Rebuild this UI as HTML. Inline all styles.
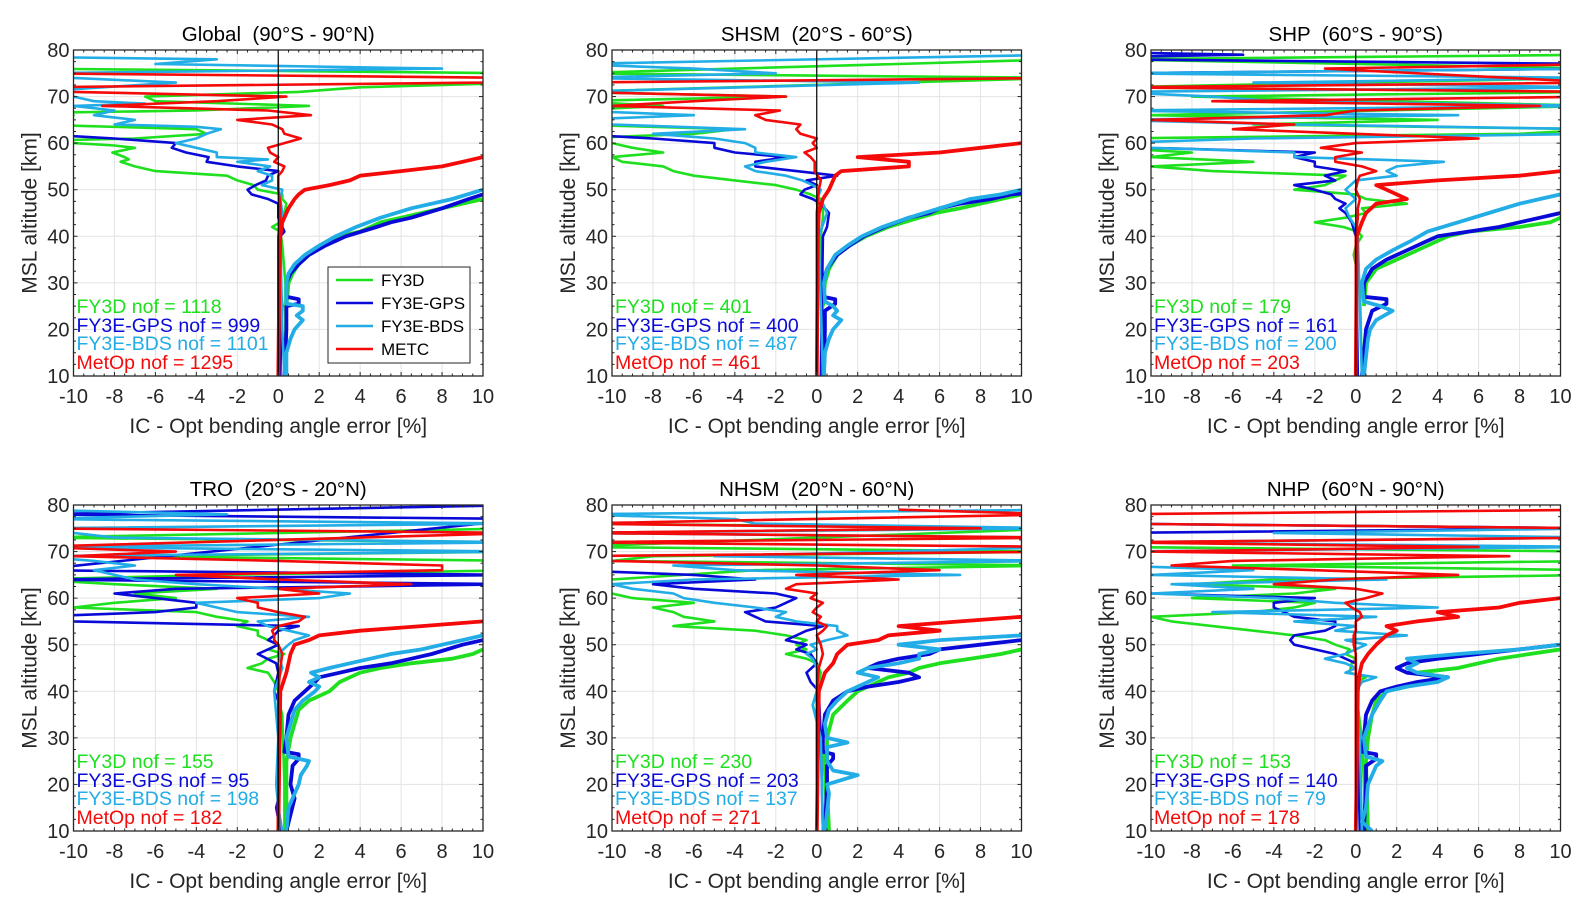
<!DOCTYPE html>
<html><head><meta charset="utf-8"><title>IC - Opt bending angle error profiles</title>
<style>
html,body{margin:0;padding:0;background:#fff;}
svg{display:block;font-family:"Liberation Sans",Arial,sans-serif;}
svg text{white-space:pre;}
</style></head>
<body>
<svg id="fig" width="1592" height="912" viewBox="0 0 1592 912" xmlns="http://www.w3.org/2000/svg"></svg>
<script>
// ---------- data (altitude km, error %) ----------
const xTicks = [-10,-8,-6,-4,-2,0,2,4,6,8,10];
const yTicks = [10,20,30,40,50,60,70,80];
const panelTitles = ["Global  (90°S - 90°N)","SHSM  (20°S - 60°S)","SHP  (60°S - 90°S)","TRO  (20°S - 20°N)","NHSM  (20°N - 60°N)","NHP  (60°N - 90°N)"];
const seriesNames = ["FY3D","FY3E-GPS","FY3E-BDS","METC"];
const nofLabels = ["FY3D","FY3E-GPS","FY3E-BDS","MetOp"];
const nofGlobal = [1118,999,1101,1295];
const nofSHSM = [401,400,487,461];
const nofSHP = [179,161,200,203];
const nofTRO = [155,95,198,182];
const nofNHSM = [230,203,137,271];
const nofNHP = [153,140,79,178];

const GLO_FY3D_BIAS=[[10,0.3],[20,0.35],[30,0.35],[38,0.2],[41,0.1],[42,-0.3],[43,0.1],[45,0.3],[47,0.4],[48,0.2],[49,0.2],[50,-1],[51,-1.2],[52,-2],[53,-2.5],[54,-6],[55,-7],[56,-7.7],[56.5,-7.3],[57,-7.5],[58,-8.1],[59,-7],[59.5,-8],[60,-10],[60.5,-12],[61,-7],[62,-3.5],[63,-4],[64,-12],[66,-10],[66.5,-12],[67,-4],[68,1.5],[69,-6],[70,-6.5],[71,1],[72,4],[73,12],[75,12],[76,-12]];
const GLO_FY3D_STD=[[25,0.4],[30,0.5],[32,0.7],[34,1.0],[36,1.5],[38,2.2],[40,3.0],[41,4.0],[42,4.5],[43,5],[44,6],[45,7],[46,8],[47,9],[48,10],[48.5,12]];
const GLO_GPS_BIAS=[[10,0.1],[20,0.15],[25,0.2],[30,0.1],[40,0.1],[41,0.3],[44,0],[47,0],[48,-0.5],[49,-1.3],[50,-1.5],[51,-1.1],[52,-0.6],[53,-0.5],[54,0],[55,-2],[56,-3.5],[57,-3.4],[58,-4.5],[59,-5.2],[60,-5],[61,-8],[61.5,-10],[62,-12]];
const GLO_GPS_STD=[[10,0.3],[15,0.35],[20,0.4],[24,0.4],[25,0.4],[25.5,1.0],[26.5,1.0],[27,0.4],[30,0.4],[32,0.6],[34,1.0],[36,1.5],[38,2.3],[40,3.3],[42,4.8],[43,5.5],[44,6.5],[46,8],[48,9.3],[49,10],[49.5,12]];
const GLO_BDS_BIAS=[[10,0.3],[20,0.2],[40,0.1],[45,0.2],[48,0.1],[50,0.2],[51,-0.8],[52,-0.3],[53,-0.3],[54,-1],[55,-0.4],[56,-2],[56.5,-0.5],[57,-3],[58,-3],[59,-4],[60,-5],[61,-4],[62,-3.5],[63,-2.8],[63.5,-4],[64,-8],[65,-7],[66,-9],[67,-8],[68,-10],[68.5,-6.5],[69,-9],[70,-10],[71,-12],[73,-5],[74,-10],[75,-12],[76,8],[77,-6],[78,-3],[78.5,-12]];
const GLO_BDS_STD=[[10,0.4],[15,0.4],[18,0.6],[20,0.8],[22,1.2],[23,0.9],[24,1.2],[25,1.2],[25.5,0.4],[30,0.4],[32,0.5],[34,0.8],[36,1.3],[38,2],[40,2.8],[42,3.8],[44,5],[46,6.5],[48,8.5],[50,10],[51,12]];
const GLO_METC_BIAS=[[10,0],[30,0],[40,0],[43,0.1],[45,0.1],[47,0.1],[50,0],[53,0],[54,0.2],[55,0.3],[56,-0.2],[57,0],[58,-0.4],[59,-0.5],[60,0.3],[61,1.1],[62,0.3],[63,0.2],[64,-0.3],[65,-2],[66,1.6],[67,-0.5],[68,-8.6],[69,-3],[70,0.4],[71,-10],[72,-12],[73,10],[74,12],[75,-12]];
const GLO_METC_STD=[[10,0],[30,0.05],[40,0.1],[43,0.2],[46,0.5],[48,0.8],[49,1],[50,1.3],[51,2.5],[52,3.5],[53,4],[54,6],[55,8],[56,9],[57,10],[58,12]];

const SHSM_FY3D_BIAS=[[10,0.3],[30,0.3],[40,0.2],[44,0.3],[46,0.3],[47,0],[48,0.2],[49,-0.3],[50,-1],[51,-2],[52,-4],[53,-6],[54,-7],[55,-7.5],[56,-9.5],[57,-10],[58,-7.5],[59,-9],[60,-10],[61,-12],[62,-6],[63,-4],[64,-12],[67,-12],[68,-7.5],[69,-12],[70,-1.5],[71,-12],[74,12],[75,-12],[78,12],[79,12]];
const SHSM_FY3D_STD=[[25,0.3],[30,0.4],[33,0.6],[36,1],[38,1.6],[40,2.4],[42,3.5],[44,5],[45,5.8],[46,7],[47,8],[48,9],[49,10],[50,12]];
const SHSM_GPS_BIAS=[[10,0.2],[40,0.3],[42,0.5],[45,0.6],[47,0.2],[48,-0.2],[49,-0.8],[50,-0.6],[51,0],[52,-0.5],[53,1],[54,-1],[55,-3],[56,-3],[57,-1.5],[58,-4],[59,-5],[60,-5],[61,-8],[62,-12]];
const SHSM_GPS_STD=[[10,0.35],[20,0.4],[24,0.4],[25.5,0.9],[26.5,0.9],[27,0.3],[30,0.3],[33,0.5],[36,1],[38,1.6],[40,2.3],[42,3.3],[44,4.5],[45,5.5],[46,6],[47,7],[48,8.5],[49,9.5],[50,12]];
const SHSM_BDS_BIAS=[[10,0.3],[40,0.1],[45,0.5],[47,0.3],[48,0],[50,0.2],[51,-0.2],[52,-0.7],[53,-1.5],[54,-3],[55,-3.5],[56,-2.5],[57,-1],[58,-3],[59,-3],[60,-3.5],[61,-5],[62,-8],[63,-3.5],[64,-10],[65,-12],[66,-6],[67,-12],[71,-12],[73,5],[74,-12],[75,-2],[76,-6],[77,-12],[79,12],[80,12]];
const SHSM_BDS_STD=[[10,0.35],[15,0.4],[18,0.6],[20,0.8],[22,1.2],[23,0.8],[24,1],[25,0.8],[26,0.4],[30,0.35],[33,0.5],[36,0.9],[38,1.5],[40,2.2],[42,3.2],[44,4.5],[46,6],[48,7.5],[49,9],[50,10],[50.5,12]];
const SHSM_METC_BIAS=[[10,0],[40,0],[45,0],[50,0.1],[52,0.2],[54,-0.1],[56,-0.1],[57,-0.3],[58,-0.6],[59,0],[60,-0.2],[61,0],[62,-0.8],[63,-1],[64,-0.8],[65,-2.5],[66,-3],[67,-1.8],[68,-10],[69,-6],[70,-1.5],[71,-12],[73,-12],[74,12],[75,12]];
const SHSM_METC_STD=[[10,0],[40,0.05],[45,0.1],[48,0.3],[50,0.6],[52,0.8],[53,0.9],[54,1.2],[55,4.5],[56,4.5],[57,2],[58,6],[59,8],[60,10],[61,12]];

const SHP_FY3D_BIAS=[[10,0.3],[30,0.2],[36,-0.1],[38,0],[40,0.3],[41,0.1],[42,-0.6],[43,-2],[44,-0.5],[45,0.5],[46,0.3],[47,2.5],[48,0.5],[49,0],[50,-3],[51,-1.5],[52,-1],[53,-0.5],[54,-7],[55,-10],[56,-5],[57,-10],[58,-8],[59,-12],[60,-10],[61,-12],[62,8],[63,12],[64,-5],[65,4],[66,-10],[68,12],[70,-8],[71,12],[72,-12],[74,12],[76,12],[78,-12],[79,12],[80,12]];
const SHP_FY3D_STD=[[25,0.4],[30,0.5],[33,1],[35,2],[37,3],[39,4],[40,4.5],[41,5.5],[42,8],[43,9.5],[44,10],[45,12]];
const SHP_GPS_BIAS=[[10,0.1],[40,0],[43,-0.2],[45,-0.5],[46,-0.8],[47,-0.5],[48,-1],[49,-1.2],[50,-2],[51,-3],[52,-1],[53,-1.5],[54,-0.5],[55,-2],[56,-2],[57,-3],[58,-2],[59,-10],[60,-12],[61,-12],[75,-12],[76,12],[77,12],[78,-12],[78.5,-12],[79,-5.5],[79.5,-12]];
const SHP_GPS_STD=[[10,0.3],[20,0.5],[24,0.8],[25.5,1.5],[26.5,1.5],[27,0.4],[30,0.4],[33,0.8],[35,1.5],[37,2.5],[39,3.5],[40,4],[41,5.5],[42,7],[43,8],[44,9],[45,10],[46,12]];
const SHP_BDS_BIAS=[[10,0.3],[40,0.1],[42,0],[44,-0.3],[46,-0.5],[48,0],[50,-0.5],[52,0],[53,2],[54,1.5],[55,2],[56,4.3],[57,-3],[58,-3],[59,-10],[60,-12],[61,-5],[62,12],[63,12],[64,-3],[65,-12],[66,5],[67,-12],[68,12],[69,-4],[70,-7],[71,-12],[72,12],[73,-5],[74,12],[75,-12],[76,12],[80,12]];
const SHP_BDS_STD=[[10,0.4],[18,0.6],[20,0.7],[22,1],[24,1.8],[25,1.2],[26,0.4],[30,0.3],[33,0.5],[35,1],[37,1.8],[39,2.7],[41,3.5],[43,5],[45,6.5],[47,8],[48,9],[49,10],[50,12]];
const SHP_METC_BIAS=[[10,0],[40,0],[44,0.1],[46,0.1],[48,0.2],[50,0],[52,0.1],[53,0.2],[54,1],[55,0.3],[56,-1],[57,-1],[58,0.3],[59,-1.7],[60,0],[61,6],[62,0],[63,-6],[64,-3],[65,-10],[66,-1.5],[67,0],[68,9],[69,-7],[70,12],[71,12],[72,-12],[73,12],[76,-1.5],[77,12]];
const SHP_METC_STD=[[10,0],[40,0.05],[43,0.3],[45,0.5],[47,1],[48,2.5],[49,2],[50,1.5],[51,1],[52,4],[53,8],[54,10],[54.5,12]];

const TRO_FY3D_BIAS=[[10,0.3],[20,0.3],[35,0.2],[38,0],[40,0],[42,-0.2],[44,-0.5],[45,-1.5],[46,-0.8],[47,-0.5],[48,0.3],[49,-0.5],[50,0],[51,-0.5],[52,-1],[53,-1],[54,-2],[55,-1.5],[56,-3],[57,-4],[58,-10],[59,-8],[60,-5],[61,-7],[62,-3],[63,-8],[64,-12],[65,-3],[66,12],[67,12],[68,12],[69,-8],[70,12],[72,12],[73,-12],[75,12],[76,12]];
const TRO_FY3D_STD=[[10,0.4],[25,0.4],[30,0.6],[33,0.8],[36,1],[38,1.5],[40,2.5],[42,3],[43,3.5],[44,4],[45,5],[46,6.5],[47,8.5],[48,9.5],[49,10],[50,12]];
const TRO_GPS_BIAS=[[10,0.1],[15,-0.1],[17,0],[20,0],[38,0],[40,-0.2],[44,0],[46,-0.1],[48,-1],[49,-0.5],[50,0],[51,-0.5],[52,-0.2],[53,0],[54,1],[55,-10],[56,-12],[57,-6],[58,-4],[59,-4],[60,-6],[61,-8],[62,-5],[63,12],[64,-12],[65,12],[66,-12],[77,12],[78,-12],[80,12]];
const TRO_GPS_STD=[[10,0.4],[17,0.8],[20,0.6],[24,0.7],[25.5,1],[26.5,1],[27,0.3],[30,0.4],[35,0.5],[38,0.8],[40,1.3],[42,1.8],[43,2],[44,3],[45,4],[46,5.5],[47,6.5],[48,7.5],[50,9],[51,10],[52,12]];
const TRO_BDS_BIAS=[[10,0.2],[15,0],[20,-0.1],[30,0],[40,-0.2],[45,0.2],[48,0],[50,0.5],[51,0.8],[52,1.5],[53,0.5],[54,-0.5],[55,-1],[56,1.5],[57,-2],[58,-3],[59,-4],[60,2],[61,3.5],[62,0],[63,-4],[64,-7],[65,-8],[66,-9],[67,-7],[68,-9],[69,-12],[70,12],[71,-12],[72,12],[73,-8],[75,-12],[76,12],[77,-12],[78,-2.5],[79,-12]];
const TRO_BDS_STD=[[10,0.4],[15,0.5],[18,0.8],[20,1],[22,1.1],[24,1.4],[25,1.5],[26,0.5],[30,0.4],[33,0.6],[36,0.8],[38,1.2],[40,1.8],[41,2],[42,1.5],[43,2],[44,1.6],[45,2.5],[46,3.5],[47,4.5],[48,5.5],[49,7],[50,8],[51,9],[52,10],[53,12]];
const TRO_METC_BIAS=[[10,0],[40,0],[45,0.1],[48,0.2],[50,0],[51,-0.2],[52,-0.2],[53,-0.3],[54,0],[55,1],[56,1.3],[57,0],[58,-1],[59,-1],[60,-2],[61,2],[62,0],[63,6.5],[64,0],[65,-5],[66,8],[67,8],[68,0],[69,-10],[70,-5],[71,-12],[74,12],[75,-12]];
const TRO_METC_STD=[[10,0],[40,0.1],[44,0.4],[46,0.5],[48,0.6],[50,0.8],[51,1.5],[52,2],[53,4],[54,7],[55,10],[56,12]];

const NHSM_FY3D_BIAS=[[10,0.5],[30,0.3],[37,-0.2],[40,0],[44,0.2],[46,0],[47,-0.5],[48,-1.5],[49,-0.5],[50,-1],[51,-0.5],[52,-1.5],[53,-3],[54,-7],[55,-5],[56,-6.5],[57,-7],[58,-8],[59,-6],[60,-9],[61,-10],[62,-12],[64,-10],[66,-3],[67,12],[68,-10],[69,-8],[70,12],[71,-12],[75,12],[76,-12]];
const NHSM_FY3D_STD=[[10,0.6],[20,0.5],[25,0.5],[30,0.5],[35,0.8],[38,1.5],[40,2],[42,3],[43,3.5],[44,4.5],[45,5],[46,6],[47,7.5],[48,9],[49,10],[50,12]];
const NHSM_GPS_BIAS=[[10,0.3],[30,0.2],[40,0.1],[42,-0.3],[44,-0.5],[46,0],[48,-0.3],[49,-1],[50,-0.5],[51,-1.5],[52,-1],[53,-0.5],[54,0.3],[55,-2.5],[56,-3],[57,-3.5],[58,-2],[59,-1.5],[60,-1],[61,-2],[62,-6],[63,-8],[64,-3],[65,-6],[66,-12]];
const NHSM_GPS_STD=[[10,0.4],[20,0.5],[24,0.5],[25.5,0.8],[26.5,0.8],[27,0.3],[30,0.3],[35,0.4],[38,0.8],[40,1.5],[41,2.5],[42,4],[43,5],[44,4.5],[45,2.5],[46,3],[47,4],[48,5.5],[49,6],[50,8],[51,10],[52,12]];
const NHSM_BDS_BIAS=[[10,0.3],[30,0.2],[37,-0.2],[40,0],[45,0],[47,-0.2],[48,-0.5],[49,0],[50,-0.3],[51,0.5],[52,1.5],[53,1],[54,1],[55,-1],[56,-2],[57,-1.5],[58,-3],[59,-5],[60,-6.5],[61,-7],[62,-9],[63,-10],[64,-6],[65,7],[66,-4],[67,-7],[68,12],[69,-5],[71,12],[73,12],[74,-12],[75,12],[76,-3],[77,-4],[78,-12],[79,12]];
const NHSM_BDS_STD=[[10,0.4],[18,0.6],[20,0.5],[22,2],[23,0.8],[25,0.5],[28,0.5],[29,1.5],[30,0.5],[33,0.4],[36,0.6],[38,1],[40,1.5],[41,2],[42,2.5],[43,3],[44,2],[45,2.5],[46,4],[47,5],[48,5],[49,6],[50,4],[51,6],[52,10],[53,12]];
const NHSM_METC_BIAS=[[10,0],[40,0],[45,0.1],[48,0.3],[50,0.2],[52,0],[53,0.3],[54,0.5],[55,0],[56,0.2],[57,-0.2],[58,0],[59,0.3],[60,-0.3],[61,0],[62,-1.5],[63,-1],[64,4],[65,-1],[66,6],[67,0],[68,-10],[69,-12],[70,12],[71,12],[72,-12],[73,12],[74,-12],[75,8],[76,-12],[78,12],[79,4]];
const NHSM_METC_STD=[[10,0],[40,0.1],[44,0.4],[46,0.8],[48,1],[50,1.5],[51,3],[52,3.5],[53,6],[54,4],[55,7],[56,10],[57,12]];

const NHP_FY3D_BIAS=[[10,0.5],[30,0.3],[40,0],[42,0],[43,0.5],[44,-0.3],[46,-0.2],[47,0],[48,-0.5],[49,-0.3],[50,-1],[51,-1.5],[52,-3],[53,-5],[54,-7],[55,-9],[56,-10],[57,-5],[58,-3],[59,-2],[60,-8],[61,-3],[62,-1],[63,-8],[64,-4],[65,12],[66,12],[67,-6],[68,12],[70,12],[71,-12]];
const NHP_FY3D_STD=[[10,0.6],[25,0.5],[30,0.6],[35,0.8],[38,1],[40,1.5],[41,2.5],[42,3.5],[43,4],[44,3],[45,5],[46,6],[47,7],[48,8.5],[49,10],[50,12]];
const NHP_GPS_BIAS=[[10,0.2],[30,0.1],[40,0],[42,0.1],[44,0],[46,0],[47,-0.5],[48,-1],[49,-2],[50,-3],[51,-3.2],[52,-3],[53,-1.5],[54,-1],[55,-1],[56,-3],[57,-3.5],[58,-4],[59,-4],[60,-2],[61,-10],[62,-12],[74,-12],[75,12],[76,-12]];
const NHP_GPS_STD=[[10,0.4],[20,0.5],[24,0.5],[25.5,1],[26.5,1],[27,0.3],[30,0.4],[35,0.5],[38,0.8],[40,1.2],[41,2],[42,3],[43,4.5],[44,2.5],[45,2],[46,2.5],[47,4],[48,6],[49,8],[50,10],[51,12]];
const NHP_BDS_BIAS=[[10,0.3],[30,0.2],[40,0],[42,0.3],[43,1],[44,-0.5],[45,0],[46,-0.5],[47,-1.5],[48,-0.5],[50,0.5],[51,-0.5],[52,2.5],[53,-1],[54,0],[55,-3],[56,1],[57,-7],[58,4],[59,-1],[60,-4],[61,-10],[62,-5],[63,-9],[64,1.5],[65,-10],[66,-5],[67,-12],[70,-12],[71,12],[72,-12],[73,12],[74,-4],[75,12],[76,-12]];
const NHP_BDS_STD=[[10,0.8],[12,0.3],[15,0.5],[20,0.6],[24,1],[25,1.3],[26,0.5],[30,0.4],[35,0.8],[38,1.2],[40,1.5],[41,2.5],[42,4],[43,4.5],[44,3],[45,2.5],[46,3],[47,2.5],[48,5],[49,8],[50,10],[51,12]];
const NHP_METC_BIAS=[[10,0],[40,0],[45,0],[48,0],[50,-0.1],[52,-0.1],[53,0],[55,0],[56,0.3],[57,0.2],[58,-0.2],[59,-0.5],[60,0.5],[61,1.3],[62,0],[63,-4],[64,-1],[65,5],[66,-2],[67,-9],[68,-6],[69,7.5],[70,-10],[71,6],[72,-12],[73,12],[75,12],[76,-12],[77,-10],[78,-12],[79,12]];
const NHP_METC_STD=[[10,0],[40,0.1],[44,0.2],[46,0.3],[48,0.6],[50,1],[52,1.5],[53,2],[54,1.5],[55,3],[56,5],[57,4],[58,7],[59,8],[60,10],[61,12]];

// ---------- rendering ----------
const NS="http://www.w3.org/2000/svg";
const svg=document.getElementById('fig');
const COLORS=["#1ee01e","#0a0ad8","#22ade6","#f50a0a"];
const panels=[
 {left:73.5,top:50,nof:nofGlobal,series:[[GLO_FY3D_BIAS,GLO_FY3D_STD],[GLO_GPS_BIAS,GLO_GPS_STD],[GLO_BDS_BIAS,GLO_BDS_STD],[GLO_METC_BIAS,GLO_METC_STD]],legend:true,key:'global'},
 {left:612,top:50,nof:nofSHSM,series:[[SHSM_FY3D_BIAS,SHSM_FY3D_STD],[SHSM_GPS_BIAS,SHSM_GPS_STD],[SHSM_BDS_BIAS,SHSM_BDS_STD],[SHSM_METC_BIAS,SHSM_METC_STD]],key:'shsm'},
 {left:1151,top:50,nof:nofSHP,series:[[SHP_FY3D_BIAS,SHP_FY3D_STD],[SHP_GPS_BIAS,SHP_GPS_STD],[SHP_BDS_BIAS,SHP_BDS_STD],[SHP_METC_BIAS,SHP_METC_STD]],key:'shp'},
 {left:73.5,top:505,nof:nofTRO,series:[[TRO_FY3D_BIAS,TRO_FY3D_STD],[TRO_GPS_BIAS,TRO_GPS_STD],[TRO_BDS_BIAS,TRO_BDS_STD],[TRO_METC_BIAS,TRO_METC_STD]],key:'tro'},
 {left:612,top:505,nof:nofNHSM,series:[[NHSM_FY3D_BIAS,NHSM_FY3D_STD],[NHSM_GPS_BIAS,NHSM_GPS_STD],[NHSM_BDS_BIAS,NHSM_BDS_STD],[NHSM_METC_BIAS,NHSM_METC_STD]],key:'nhsm'},
 {left:1151,top:505,nof:nofNHP,series:[[NHP_FY3D_BIAS,NHP_FY3D_STD],[NHP_GPS_BIAS,NHP_GPS_STD],[NHP_BDS_BIAS,NHP_BDS_STD],[NHP_METC_BIAS,NHP_METC_STD]],key:'nhp'}
];
const W=409.5,H=326,XMIN=-10,XMAX=10,YMIN=10,YMAX=80;
function mk(tag,attrs,parent){const e=document.createElementNS(NS,tag);for(const k in attrs)e.setAttribute(k,attrs[k]);(parent||svg).appendChild(e);return e;}

panels.forEach((p,pi)=>{
 const xs=v=>p.left+(v-XMIN)/(XMAX-XMIN)*W;
 const ys=v=>p.top+(YMAX-v)/(YMAX-YMIN)*H;
 const g=mk('g',{});
 
 
 const cp=mk('clipPath',{id:'clip'+pi},g);
 mk('rect',{x:p.left,y:p.top,width:W,height:H},cp);
 const grid=mk('g',{stroke:'#e3e3e3','stroke-width':1},g);
 
 
 xTicks.forEach(t=>mk('line',{x1:xs(t),x2:xs(t),y1:p.top,y2:p.top+H},grid));
 yTicks.forEach(t=>mk('line',{x1:p.left,x2:p.left+W,y1:ys(t),y2:ys(t)},grid));
 const plot=mk('g',{'clip-path':'url(#clip'+pi+')',fill:'none','stroke-linejoin':'round'},g);
 p.series.forEach((pair,si)=>{
  pair.forEach((arr,bi)=>{
   const d=arr.map((pt,i)=>(i?'L':'M')+xs(pt[1]).toFixed(1)+' '+ys(pt[0]).toFixed(1)).join(' ');
   const path=mk('path',{d:d,stroke:COLORS[si],'stroke-width':bi?3.8:2.6},plot);
   
   
  });
 });
 const zl=mk('line',{x1:xs(0),x2:xs(0),y1:p.top,y2:p.top+H,stroke:'#000','stroke-width':1.2},g);
 
 
 const box=mk('rect',{x:p.left,y:p.top,width:W,height:H,fill:'none',stroke:'#262626','stroke-width':1.3},g);
 
 
 const tk=mk('g',{stroke:'#262626','stroke-width':1},g);
 for(let v=XMIN;v<=XMAX;v+=0.5){const L=(v%2===0)?4:2.5;mk('line',{x1:xs(v),x2:xs(v),y1:p.top+H,y2:p.top+H-L},tk);mk('line',{x1:xs(v),x2:xs(v),y1:p.top,y2:p.top+L},tk);}
 for(let v=YMIN;v<=YMAX;v+=2.5){const L=(v%10===0)?4:2.5;mk('line',{x1:p.left,x2:p.left+L,y1:ys(v),y2:ys(v)},tk);mk('line',{x1:p.left+W,x2:p.left+W-L,y1:ys(v),y2:ys(v)},tk);}
 xTicks.forEach(t=>{const e=mk('text',{x:xs(t),y:p.top+H+27,'text-anchor':'middle','font-size':20,fill:'#262626'},g);e.textContent=t;
  
  });
 yTicks.forEach(t=>{const e=mk('text',{x:p.left-4,y:ys(t)+7,'text-anchor':'end','font-size':20,fill:'#262626'},g);e.textContent=t;
  
  });
 const ti=mk('text',{x:p.left+W/2,y:p.top-9,'text-anchor':'middle','font-size':20.5,fill:'#000'},g);ti.textContent=panelTitles[pi];
 
 
 const xl=mk('text',{x:p.left+W/2,y:p.top+H+57,'text-anchor':'middle','font-size':21,fill:'#262626'},g);xl.textContent='IC - Opt bending angle error [%]';
 
 
 const yl=mk('text',{x:0,y:0,'text-anchor':'middle','font-size':21,fill:'#262626',transform:'translate('+(p.left-37)+','+(p.top+H/2)+') rotate(-90)'},g);yl.textContent='MSL altitude [km]';
 
 
 const offs=[63,44,26,7];
 p.nof.forEach((n,i)=>{const e=mk('text',{x:p.left+3,y:p.top+H-offs[i],'font-size':19.5,fill:COLORS[i]},g);e.textContent=nofLabels[i]+' nof = '+n;
  
  });
 if(p.legend){
  const lg=mk('g',{},g);
  
  
  mk('rect',{x:328,y:267,width:142,height:96,fill:'#fff',stroke:'#262626','stroke-width':1},lg);
  const rows=[280,303,326,349];
  seriesNames.forEach((s,i)=>{
   const ln=mk('line',{x1:336,x2:373,y1:rows[i],y2:rows[i],stroke:COLORS[i],'stroke-width':2.5},lg);
   
   
   const t=mk('text',{x:381,y:rows[i]+6,'font-size':17,fill:'#000'},lg);t.textContent=s;
   
   
  });
 }
});
</script>
</body></html>
